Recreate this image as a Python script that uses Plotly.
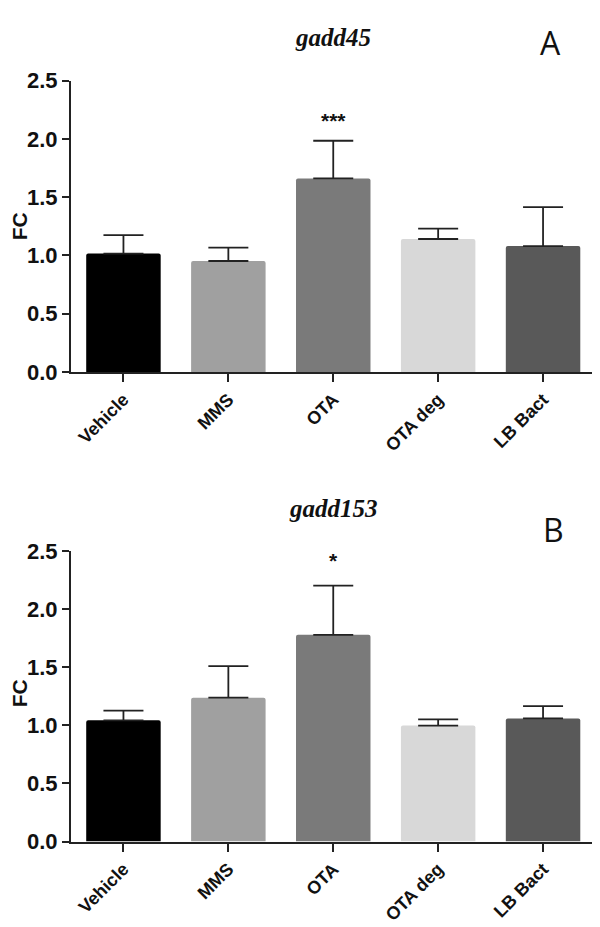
import plotly.graph_objects as go

categories = ["Vehicle", "MMS", "OTA", "OTA deg", "LB Bact"]
bar_colors = ["#000000", "#a0a0a0", "#7a7a7a", "#d8d8d8", "#595959"]

gadd45_mean = [1.016, 0.952, 1.661, 1.141, 1.080]
gadd45_err = [0.158, 0.114, 0.323, 0.089, 0.334]

gadd153_mean = [1.044, 1.239, 1.780, 0.999, 1.060]
gadd153_err = [0.084, 0.272, 0.425, 0.053, 0.107]

y_ticks = [0.0, 0.5, 1.0, 1.5, 2.0, 2.5]
y_ticktext = ["0.0", "0.5", "1.0", "1.5", "2.0", "2.5"]

sig_a = {"cat": "OTA", "y": 2.16, "text": "***"}
sig_b = {"cat": "OTA", "y": 2.42, "text": "*"}

W, H = 600, 927
AX = "#222222"

fig = go.Figure()

for xa, ya, means, errs in [("x", "y", gadd45_mean, gadd45_err),
                            ("x2", "y2", gadd153_mean, gadd153_err)]:
    fig.add_trace(go.Bar(
        x=categories, y=means, xaxis=xa, yaxis=ya,
        marker=dict(color=bar_colors, line=dict(width=0), cornerradius=2),
        width=0.71,
        error_y=dict(type="data", array=errs, arrayminus=[0] * len(errs),
                     symmetric=False, color=AX, thickness=1.8, width=20),
        showlegend=False,
    ))

tickfont = dict(family="Liberation Sans, Arial", size=22, color="#111111", weight="bold")
xtickfont = dict(family="Liberation Sans, Arial", size=18, color="#111111", weight="bold")

def xaxis_cfg(anchor):
    return dict(domain=[63 / W, 587.5 / W], anchor=anchor, range=[-0.5, 4.5],
                showline=True, linecolor=AX, linewidth=2, ticks="outside",
                ticklen=8, tickwidth=2, tickcolor=AX, tickangle=-45,
                tickfont=xtickfont, showgrid=False, zeroline=False, fixedrange=True)

def yaxis_cfg(anchor, dom):
    return dict(domain=dom, anchor=anchor, range=[0, 2.5], tickvals=y_ticks,
                ticktext=y_ticktext, showline=True, linecolor=AX, linewidth=2,
                ticks="outside", ticklen=7, tickwidth=2, tickcolor=AX,
                tickfont=tickfont, showgrid=False, zeroline=False, fixedrange=True)

dom_a = [1 - 361.7 / H, 1 - 62.3 / H]
dom_b = [1 - 844.3 / H, 1 - 546 / H]

fig.update_layout(
    width=W, height=H,
    margin=dict(l=0, r=0, t=0, b=0),
    paper_bgcolor="white", plot_bgcolor="white",
    xaxis=xaxis_cfg("y"),
    yaxis=yaxis_cfg("x", dom_a),
    xaxis2=xaxis_cfg("y2"),
    yaxis2=yaxis_cfg("x2", dom_b),
)

title_font = dict(family="Liberation Serif, Times New Roman", size=25, color="#111111",
                  weight="bold", style="italic")
letter_font = dict(family="Open Sans", size=32, color="#111111")
fc_font = dict(family="Liberation Sans, Arial", size=21, color="#111111", weight="bold")
star_font = dict(family="Liberation Sans, Arial", size=21, color="#111111", weight="bold")

anns = [
    dict(text="gadd45", x=325 / W, y=1 - 18.3 / H, font=title_font),
    dict(text="gadd153", x=325 / W, y=1 - 501.7 / H, font=title_font),
    dict(text="A", x=542 / W, y=1 - 23 / H, font=letter_font),
    dict(text="B", x=545 / W, y=1 - 523.3 / H, font=letter_font),
    dict(text="FC", x=11 / W, y=1 - 212 / H, font=fc_font, textangle=-90),
    dict(text="FC", x=11 / W, y=1 - 692 / H, font=fc_font, textangle=-90),
]
for a in anns:
    a.update(xref="paper", yref="paper", showarrow=False, xanchor="center", yanchor="middle")
    fig.add_annotation(**a)

fig.add_annotation(text=sig_a["text"], x=sig_a["cat"], y=sig_a["y"], xref="x", yref="y",
                   showarrow=False, font=star_font, yanchor="middle")
fig.add_annotation(text=sig_b["text"], x=sig_b["cat"], y=sig_b["y"], xref="x2", yref="y2",
                   showarrow=False, font=star_font, yanchor="middle")

fig.write_html("out.html")
